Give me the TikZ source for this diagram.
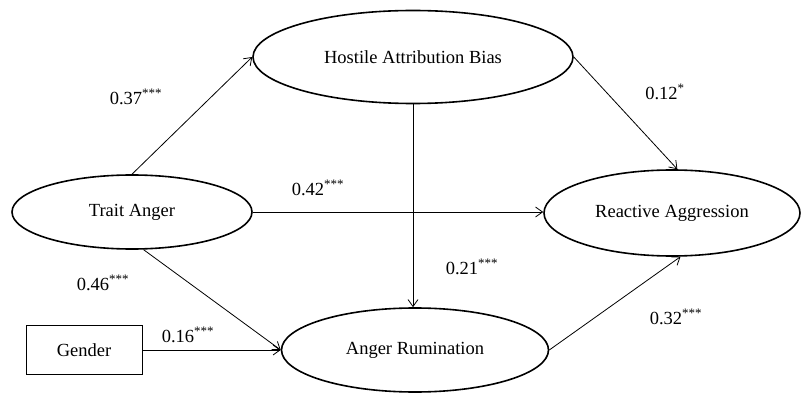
\documentclass[tikz,border=0pt]{standalone}
\usepackage{fontspec}
\setmainfont{Liberation Serif}
\usetikzlibrary{shapes.geometric,arrows.meta}
\begin{document}
\begin{tikzpicture}[x=1pt,y=-1pt,
  every node/.style={font=\fontsize{18.5}{22}\selectfont},
  latent/.style={draw,ellipse,line width=1.6pt,inner sep=0pt},
  obsbox/.style={draw,rectangle,line width=0.9pt,inner sep=0pt},
  path/.style={line width=0.8pt,-{Straight Barb[length=7pt,width=10pt,line width=0.8pt]}},
  coef/.style={inner sep=1pt}]
\useasboundingbox (0,0) rectangle (807,393);
\node[latent,minimum width=320pt,minimum height=93pt] (hab) at (413,57) {Hostile Attribution Bias};
\node[latent,minimum width=240pt,minimum height=74pt] (ta) at (132,212) {Trait Anger};
\node[latent,minimum width=256pt,minimum height=86pt] (ra) at (672,213) {Reactive Aggression};
\node[latent,minimum width=267pt,minimum height=84pt] (ar) at (415,350) {Anger Rumination};
\node[obsbox,minimum width=116pt,minimum height=49pt] (g) at (84,350) {Gender};
\draw[path] (ta.north) -- (hab.west);
\draw[path] (ta.east) -- (ta.east -| ra.west);
\draw[path] (ta.-73) -- (ar.west);
\draw[path] (g.east) -- (ar.west);
\draw[path] (hab.south) -- (hab.south |- ar.north);
\draw[path] (hab.east) -- (ra.83);
\draw[path] (ar.east) -- (ra.-79);
\node[coef] (l37) at (136,97) {0.37\textsuperscript{***}};
\node[coef] (l42) at (318,188) {0.42\textsuperscript{***}};
\node[coef] (l12) at (665,92) {0.12\textsuperscript{*}};
\node[coef] (l46) at (103,283) {0.46\textsuperscript{***}};
\node[coef] (l16) at (188,335) {0.16\textsuperscript{***}};
\node[coef] (l21) at (472,267) {0.21\textsuperscript{***}};
\node[coef] (l32) at (676,317) {0.32\textsuperscript{***}};
\end{tikzpicture}
\end{document}
